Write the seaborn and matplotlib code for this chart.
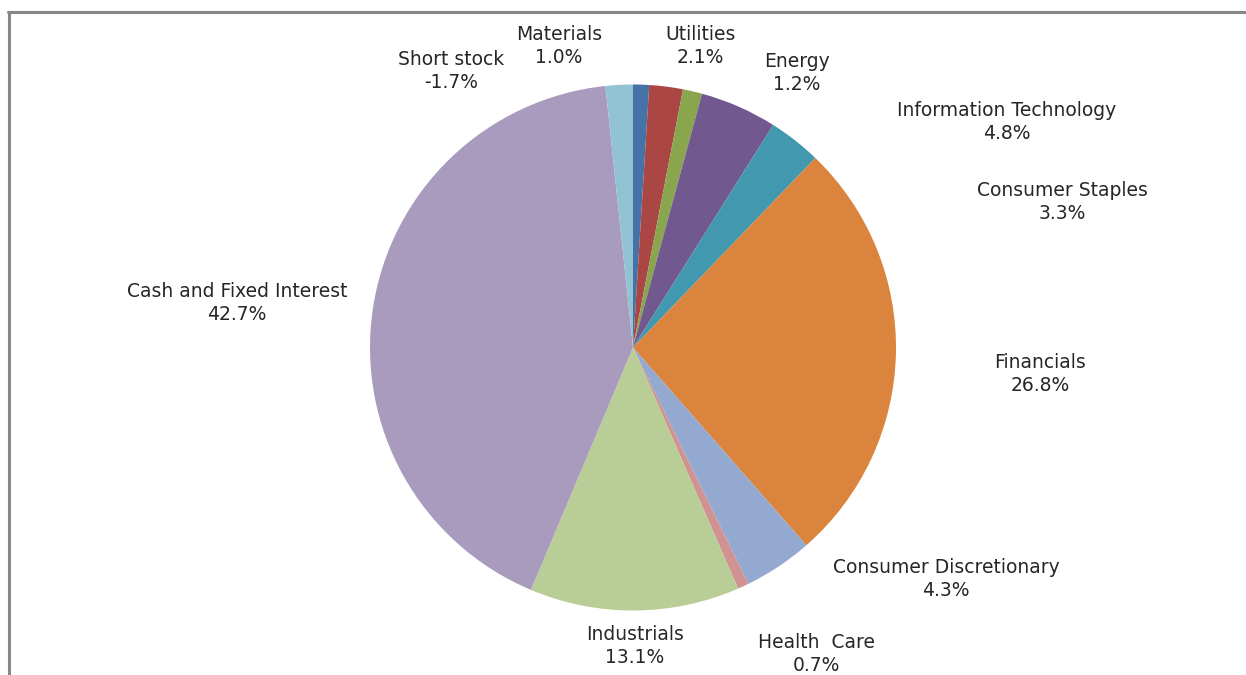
import matplotlib
matplotlib.use("Agg")
import matplotlib.pyplot as plt
import seaborn as sns
import numpy as np
from matplotlib.lines import Line2D

# ---- data ----
sectors = ["Materials", "Utilities", "Energy", "Information Technology",
           "Consumer Staples", "Financials", "Consumer Discretionary",
           "Health  Care", "Industrials", "Cash and Fixed Interest", "Short stock"]
weights = [1.0, 2.1, 1.2, 4.8, 3.3, 26.8, 4.3, 0.7, 13.1, 42.7, -1.7]

# ---- style / layout ----
colors = ["#4572A7", "#AA4643", "#89A54E", "#71588F", "#4198AF", "#DB843D",
          "#93A9CF", "#D19392", "#B9CD96", "#A99BBD", "#92C3D4"]
# label positions relative to pie centre, in pie-radius units (x right, y up)
label_offsets = [(-0.281, 1.146), (0.255, 1.146), (0.624, 1.044), (1.422, 0.857),
                 (1.631, 0.553), (1.548, -0.101), (1.190, -0.880), (0.696, -1.165),
                 (0.008, -1.135), (-1.506, 0.169), (-0.692, 1.051)]

sns.set_theme(style="white")
plt.rcParams["font.family"] = ["DejaVu Sans"]

W, H = 1246, 675
fig = plt.figure(figsize=(W / 100, H / 100), dpi=100)
ax = fig.add_axes([0, 0, 1, 1])

cx, cy, R = 633, H - 347.5, 263
sizes = np.abs(weights)
ax.pie(sizes, colors=colors, startangle=90, counterclock=False,
       center=(cx, cy), radius=R, frame=True,
       wedgeprops=dict(linewidth=0, antialiased=True))
ax.set_xlim(0, W)
ax.set_ylim(0, H)
ax.set_aspect("equal")
ax.axis("off")

for name, w, (dx, dy) in zip(sectors, weights, label_offsets):
    ax.text(cx + dx * R, cy + dy * R, f"{name}\n{w:.1f}%", ha="center", va="center",
            fontsize=13.5, color="#262626", linespacing=1.22)

# chart frame (left and top edges visible)
fig.add_artist(Line2D([8.5 / W, 8.5 / W], [0, 1 - 12 / H], transform=fig.transFigure,
                      color="#878787", linewidth=2.2))
fig.add_artist(Line2D([7.5 / W, 1], [1 - 12 / H, 1 - 12 / H], transform=fig.transFigure,
                      color="#878787", linewidth=2.2))

fig.savefig("out.png", dpi=100, facecolor="white")
